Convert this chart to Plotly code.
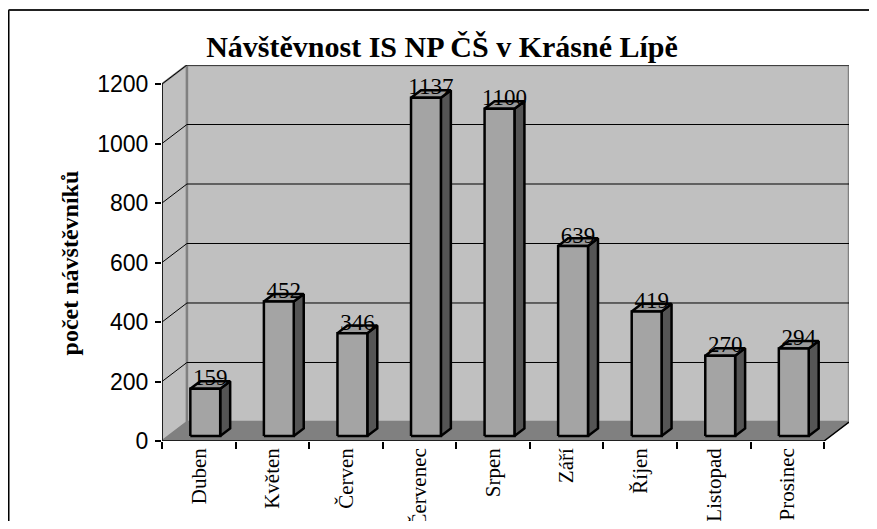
import plotly.graph_objects as go

# ---- data ----
months = ["Duben", "Květen", "Červen", "Červenec", "Srpen", "Září", "Říjen", "Listopad", "Prosinec"]
visitors = [159, 452, 346, 1137, 1100, 639, 419, 270, 294]
y_ticks = [0, 200, 400, 600, 800, 1000, 1200]

title = "Návštěvnost IS NP ČŠ v Krásné Lípě"
y_title = "počet návštěvníků"

# ---- 3D geometry (in axis units) ----
N = len(months)
YMAX = 1200
DX = 0.339   # depth offset in category units
DY = 63.9    # depth offset in value units
W = 0.406    # bar front width (category units)
F0 = 0.26    # bar front position as fraction of depth
BD = 0.40    # bar depth as fraction of depth

x_left = -0.5
x_right = N - 0.5

fig = go.Figure()

def poly(pts):
    xs, ys = [], []
    for p in pts:
        xs.append(p[0]); ys.append(p[1])
    return xs, ys

# left wall
xs, ys = poly([(x_left, 0), (x_left, YMAX), (x_left + DX, YMAX + DY), (x_left + DX, DY), (x_left, 0)])
fig.add_trace(go.Scatter(x=xs, y=ys, mode="lines", fill="toself", fillcolor="#c0c0c0",
                         line=dict(color="#808080", width=2), hoverinfo="skip", cliponaxis=False))
# back wall
xs, ys = poly([(x_left + DX, DY), (x_right + DX, DY), (x_right + DX, YMAX + DY),
               (x_left + DX, YMAX + DY), (x_left + DX, DY)])
fig.add_trace(go.Scatter(x=xs, y=ys, mode="lines", fill="toself", fillcolor="#c0c0c0",
                         line=dict(color="#808080", width=2.5), hoverinfo="skip", cliponaxis=False))

# gridlines
gx, gy = [], []
for v in y_ticks[1:]:
    gx += [x_left, x_left + DX, x_right + DX, None]
    gy += [v, v + DY, v + DY, None]
fig.add_trace(go.Scatter(x=gx, y=gy, mode="lines", line=dict(color="black", width=1),
                         hoverinfo="skip", cliponaxis=False))

# floor
xs, ys = poly([(x_left, 0), (x_right, 0), (x_right + DX, DY), (x_left + DX, DY), (x_left, 0)])
fig.add_trace(go.Scatter(x=xs, y=ys, mode="lines", fill="toself", fillcolor="#808080",
                         line=dict(color="#808080", width=1), hoverinfo="skip", cliponaxis=False))
# floor front edge + right edge, y axis line
fig.add_trace(go.Scatter(x=[x_left, x_right, x_right + DX], y=[0, 0, DY], mode="lines",
                         line=dict(color="black", width=1.5), hoverinfo="skip", cliponaxis=False))
fig.add_trace(go.Scatter(x=[x_left, x_left], y=[0, YMAX], mode="lines",
                         line=dict(color="black", width=1.5), hoverinfo="skip", cliponaxis=False))

# bars
sx, sy, tx, ty, fx, fy = [], [], [], [], [], []
lx, ly = [], []
for i, v in enumerate(visitors):
    c = i + F0 * DX
    base = F0 * DY
    a, b = c - W / 2, c + W / 2
    ddx, ddy = BD * DX, BD * DY
    # front
    fx += [a, b, b, a, a, None]
    fy += [base, base, base + v, base + v, base, None]
    # side
    sx += [b, b + ddx, b + ddx, b, b, None]
    sy += [base, base + ddy, base + v + ddy, base + v, base, None]
    # top
    tx += [a, b, b + ddx, a + ddx, a, None]
    ty += [base + v, base + v, base + v + ddy, base + v + ddy, base + v, None]
    lx.append(c + ddx / 2)
    ly.append(base + v + ddy + 5)

edge = dict(color="black", width=2.5)
fig.add_trace(go.Scatter(x=sx, y=sy, mode="lines", fill="toself", fillcolor="#555555",
                         line=edge, hoverinfo="skip"))
fig.add_trace(go.Scatter(x=tx, y=ty, mode="lines", fill="toself", fillcolor="#9a9a9a",
                         line=edge, hoverinfo="skip"))
fig.add_trace(go.Scatter(x=fx, y=fy, mode="lines", fill="toself", fillcolor="#a4a4a4",
                         line=edge, hoverinfo="skip"))

# data labels
fig.add_trace(go.Scatter(x=lx, y=ly, mode="text", text=[str(v) for v in visitors],
                         textposition="middle center",
                         textfont=dict(family="Liberation Serif", size=23, color="black"),
                         hoverinfo="skip", cliponaxis=False))

fig.update_layout(
    width=861, height=513,
    margin=dict(l=154, r=20, t=57, b=80, autoexpand=False),
    paper_bgcolor="white", plot_bgcolor="white",
    showlegend=False,
    title=dict(text="<b>" + title + "</b>", xref="paper", x=0.4076, xanchor="center",
               yref="container", y=0.924, yanchor="middle",
               font=dict(family="Liberation Serif", size=30, color="black")),
    xaxis=dict(range=[x_left, x_right + DX], tickvals=list(range(N)), ticktext=months,
               tickangle=-90, ticks="", showgrid=False, zeroline=False, showline=False,
               automargin=False,
               tickfont=dict(family="Liberation Serif", size=21, color="black"),
               ticklabelstandoff=2,
               minor=dict(tickvals=[k - 0.5 for k in range(N + 1)], ticks="outside",
                          ticklen=7, tickcolor="black", tickwidth=1.5, showgrid=False)),
    yaxis=dict(range=[0, YMAX + DY], tickvals=y_ticks, ticks="outside", ticklen=6,
               tickcolor="black", tickwidth=1.5, showgrid=False, zeroline=False, showline=False,
               automargin=False, ticklabelstandoff=2,
               tickfont=dict(family="Liberation Sans", size=23, color="black")),
    annotations=[dict(text="<b>" + y_title + "</b>", xref="paper", yref="y",
                      x=-0.134, y=YMAX / 2, textangle=-90, showarrow=False,
                      xanchor="center", yanchor="middle",
                      font=dict(family="Liberation Serif", size=24, color="black"))],
    shapes=[
        dict(type="line", xref="paper", yref="paper", x0=-0.2234, x1=-0.2234,
             y0=-0.4, y1=1.1463, line=dict(color="black", width=2), layer="below"),
        dict(type="line", xref="paper", yref="paper", x0=-0.2234, x1=1.2,
             y0=1.1463, y1=1.1463, line=dict(color="#222222", width=2), layer="below"),
    ],
)

fig.write_html("out.html")
